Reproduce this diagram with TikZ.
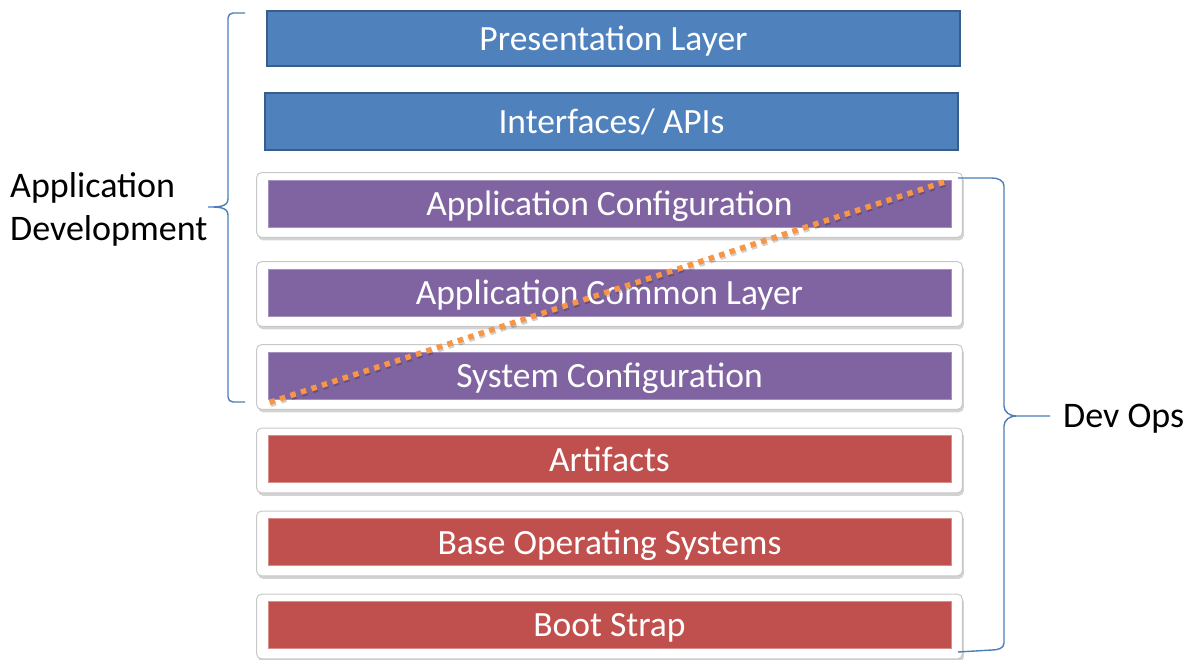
\documentclass[tikz,border=0pt]{standalone}
\usepackage{fontspec}
\setmainfont{Carlito}
\usetikzlibrary{shadows,backgrounds}

\definecolor{layerblue}{HTML}{4F81BD}
\definecolor{layerblueedge}{HTML}{385D8A}
\definecolor{layerpurple}{HTML}{8064A2}
\definecolor{layerpurpleedge}{HTML}{A491BE}
\definecolor{layerred}{HTML}{C0504D}
\definecolor{layerrededge}{HTML}{D98E8C}
\definecolor{bracecol}{HTML}{4A7EBB}
\definecolor{dotorange}{HTML}{F79646}
\definecolor{framegray}{HTML}{C8C8C8}

\tikzset{
  layertext/.style={text=white, font=\fontsize{35.5}{40}\selectfont, text depth=0pt},
  bluelayer/.style={layertext, draw=layerblueedge, line width=2pt, fill=layerblue,
    minimum width=693pt, minimum height=55pt, inner sep=0pt},
  purplelayer/.style={layertext, draw=layerpurpleedge, line width=0.8pt, fill=layerpurple,
    minimum width=683pt, minimum height=47pt, inner sep=0pt},
  redlayer/.style={layertext, draw=layerrededge, line width=0.8pt, fill=layerred,
    minimum width=683pt, minimum height=47pt, inner sep=0pt},
  layerframe/.style={draw=framegray, line width=1pt, fill=white, rounded corners=5pt,
    drop shadow={opacity=0.35, shadow xshift=1.5pt, shadow yshift=-3pt}},
  bracestroke/.style={draw=bracecol, line width=1.4pt},
  sidelabel/.style={font=\fontsize{36}{43}\selectfont, text=black, inner sep=0pt, align=left},
  splitline/.style={draw=dotorange, line width=5.5pt, dash pattern=on 5.5pt off 5.5pt},
  splitshade/.style={draw=black, opacity=0.18, line width=5.5pt, dash pattern=on 5.5pt off 5.5pt},
}

\begin{document}
\begin{tikzpicture}[x=1pt, y=-1pt]
  \useasboundingbox (0,0) rectangle (1189,660);

  % upper layers
  \node[bluelayer] (pres) at (613.5,38.5) {Presentation Layer};
  \node[bluelayer, minimum height=57pt] (api) at (611.5,121.5) {Interfaces/ APIs};

  % framed layers
  \node[purplelayer] (appcfg) at (609.5,203.5) {Application Configuration};
  \node[purplelayer] (common) at (609.5,292.5) {Application Common Layer};
  \node[purplelayer] (syscfg) at (609.5,375.5) {System Configuration};
  \node[redlayer] (artifacts) at (609.5,459) {Artifacts};
  \node[redlayer] (baseos) at (609.5,542) {Base Operating Systems};
  \node[redlayer] (boot) at (609.5,625) {Boot Strap};

  % white frames behind the framed layers
  \begin{scope}[on background layer]
    \foreach \n in {appcfg,common,syscfg,artifacts,baseos,boot}{
      \path[layerframe] ([xshift=-11pt,yshift=7pt]\n.north west)
        rectangle ([xshift=11pt,yshift=-10pt]\n.south east);
    }
  \end{scope}

  % split between the two responsibilities
  \coordinate (splitlow) at ([xshift=2pt,yshift=-3pt]syscfg.south west);
  \coordinate (splithigh) at ([xshift=-3pt,yshift=-1pt]appcfg.north east);
  \draw[splitshade] ([xshift=1pt,yshift=-2pt]splitlow) -- ([xshift=1pt,yshift=-2pt]splithigh);
  \draw[splitline] (splitlow) -- (splithigh);

  % side labels
  \node[sidelabel, anchor=west] (appdev) at (10,209.5) {Application\\Development};
  \node[sidelabel, anchor=west] (devops) at (1063,419) {Dev Ops};

  % left brace
  \coordinate (lbtop) at (245,13);
  \coordinate (lbbot) at (245,402);
  \coordinate (lbtip) at (208,207);
  \draw[bracestroke] (lbtop) -- (233,13) to[out=180,in=90] (228,18) -- (228,199)
    to[out=270,in=0] (lbtip) to[out=0,in=90] (228,215) -- (228,397)
    to[out=270,in=180] (233,402) -- (lbbot);

  % right brace
  \coordinate (rbtop) at (958,178);
  \coordinate (rbbot) at (958,652);
  \coordinate (rbtip) at (1050,416);
  \draw[bracestroke] (rbtop) -- (992,178) to[out=0,in=90] (1004,186) -- (1004,406)
    to[out=270,in=180] (1016,416) -- (rbtip);
  \draw[bracestroke] (1016,416) to[out=180,in=90] (1004,426) -- (1004,643)
    to[out=270,in=0] (992,650) -- (rbbot);
\end{tikzpicture}
\end{document}
